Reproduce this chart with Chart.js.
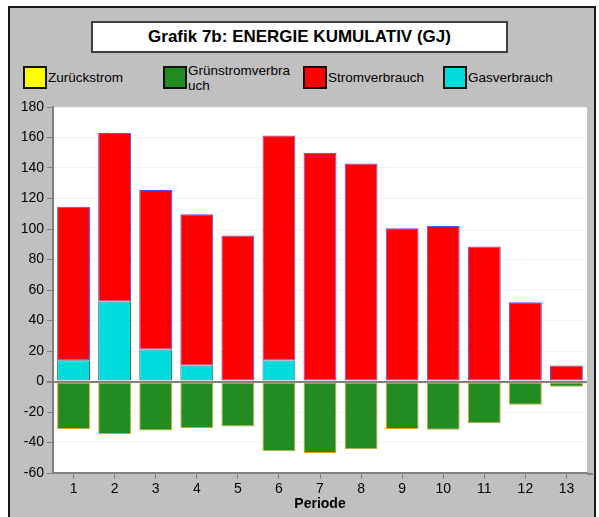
<!DOCTYPE html>
<html>
<head>
<meta charset="utf-8">
<script src="https://cdn.jsdelivr.net/npm/chart.js@4/dist/chart.umd.min.js"></script>
<style>
  body { margin: 0; background: #fff; font-family: Arial, "Liberation Sans", sans-serif; }
  #wrap { position: relative; width: 599px; height: 517px; overflow: hidden; }
  #frame { position: absolute; left: 8px; top: 6px; width: 584px; height: 530px;
           border: 2px solid #1a1a1a; background: #c0c0c0; }
  #title { position: absolute; left: 91px; top: 21px; width: 413px; height: 28px;
           border: 2px solid #404040; background: #fff; text-align: center;
           font-weight: bold; font-size: 17px; line-height: 28px; color: #000; }
  .lg { position: absolute; top: 66px; font-size: 13.5px; color: #000; }
  .sw { position: absolute; left: 0; top: 0; width: 20px; height: 19px; border: 2px solid #111; }
  .lt { position: absolute; left: 25px; top: 4px; white-space: nowrap; line-height: 15px; }
  .lt2 { top: -3px; }
  #chart { position: absolute; left: 0; top: 95px; }
</style>
</head>
<body>
<div id="wrap">
  <div id="frame"></div>
  <div id="title">Grafik 7b: ENERGIE KUMULATIV (GJ)</div>
  <div id="legend"></div>
  <canvas id="chart" width="599" height="422"></canvas>
</div>
<script>
// Periods 1..13
const periods = ['1', '2', '3', '4', '5', '6', '7', '8', '9', '10', '11', '12', '13'];

// Values in GJ
const zurueckstrom = [0, 0, 0, 0, 0, 0, 0, 0, 0, 0, 0, 0, 0];
const gruenstrom = [-31.1, -34.4, -32.2, -30.5, -29.5, -45.8, -46.9, -44.5, -31.2, -31.6, -27.3, -15.3, -3.4];
const gasverbrauch = [14, 52.5, 21, 10.5, 0, 13.7, 0, 0, 0, 0, 0, 0, 0];
const stromverbrauch = [100.6, 110.5, 104.6, 99.2, 95.7, 147.6, 150, 143, 100.5, 102, 88.5, 51.9, 10.5];

const yMin = -60;
const yMax = 180;

// legend entries in the order shown on the chart
const legendItems = [
    { label: 'Zurückstrom', color: '#ffff00', left: 23 },
    { label: 'Grünstromverbra<br>uch', color: '#228b22', left: 163, twoLines: true },
    { label: 'Stromverbrauch', color: '#ff0000', left: 303 },
    { label: 'Gasverbrauch', color: '#00dcdc', left: 443 }
];

document.getElementById('legend').innerHTML = legendItems.map(it => `
    <div class="lg" style="left:${it.left}px">
        <div class="sw" style="background:${it.color}"></div>
        <div class="lt ${it.twoLines ? 'lt2' : ''}">${it.label}</div>
    </div>`).join('');

// white plot background, x axis line runs a little past the plot like the original
const plotBg = {
    id: 'plotBg',
    beforeDraw(chart) {
        const { ctx, chartArea: a } = chart;
        ctx.save();
        ctx.fillStyle = '#ffffff';
        ctx.fillRect(a.left, a.top, a.right - a.left, a.bottom - a.top);
        ctx.restore();
    },
    afterDraw(chart) {
        const { ctx, chartArea: a } = chart;
        ctx.save();
        ctx.strokeStyle = '#808080';
        ctx.lineWidth = 2;
        ctx.beginPath();
        ctx.moveTo(a.right, a.bottom + 1);
        ctx.lineTo(a.right + 6, a.bottom + 1);
        ctx.stroke();
        ctx.restore();
    }
};

const axisFont = { family: 'Arial, "Liberation Sans", sans-serif', size: 14 };

new Chart(document.getElementById('chart').getContext('2d'), {
    type: 'bar',
    data: {
        labels: periods,
        datasets: [
            { label: 'Zurückstrom', data: zurueckstrom, backgroundColor: '#ffff00', borderWidth: 0, stack: 's' },
            { label: 'Grünstromverbrauch', data: gruenstrom, backgroundColor: '#228b22', borderColor: '#d9a521', borderWidth: 1, borderSkipped: false, stack: 's' },
            { label: 'Gasverbrauch', data: gasverbrauch, backgroundColor: '#00dcdc', borderColor: '#2a7070', borderWidth: 1, borderSkipped: false, stack: 's' },
            { label: 'Stromverbrauch', data: stromverbrauch, backgroundColor: '#ff0000', borderColor: '#5b4ff0', borderWidth: 1, borderSkipped: false, stack: 's' }
        ]
    },
    options: {
        responsive: false,
        animation: false,
        devicePixelRatio: 1,
        layout: { padding: { top: 12, right: 12, bottom: 0, left: 0 } },
        plugins: { legend: { display: false }, tooltip: { enabled: false } },
        datasets: { bar: { barPercentage: 0.8, categoryPercentage: 1 } },
        scales: {
            x: {
                stacked: true,
                offset: true,
                afterFit: s => { s.height = 44; },
                grid: { offset: false, drawOnChartArea: false, tickLength: 6, tickColor: '#808080' },
                border: { color: '#808080', width: 2 },
                ticks: { color: '#000', font: axisFont, padding: 2, maxRotation: 0 },
                title: { display: true, text: 'Periode', color: '#000',
                         font: { ...axisFont, weight: 'bold' }, padding: { top: 0, bottom: 4 } }
            },
            y: {
                stacked: true,
                min: yMin,
                max: yMax,
                afterFit: s => { s.width = 53; },
                grid: {
                    tickLength: 6,
                    tickColor: '#808080',
                    color: c => c.tick.value === 0 ? '#808080' : (c.tick.value % 20 === 0 ? '#f3f3f3' : 'rgba(0,0,0,0)'),
                    lineWidth: c => c.tick.value === 0 ? 2 : 1
                },
                border: { color: '#808080', width: 2 },
                ticks: {
                    stepSize: 10,
                    color: '#000',
                    font: axisFont,
                    padding: 3,
                    callback: v => v % 20 === 0 ? v : ''
                }
            }
        }
    },
    plugins: [plotBg]
});
</script>
</body>
</html>
